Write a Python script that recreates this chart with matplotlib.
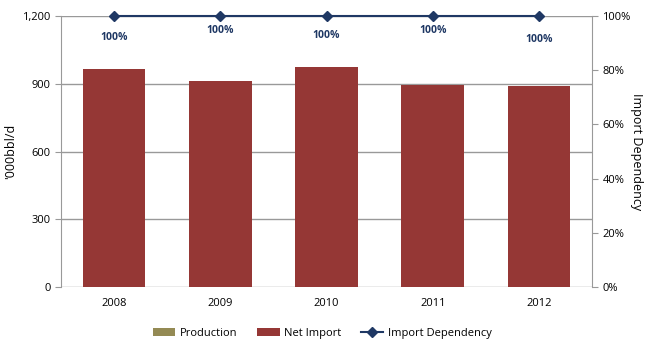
import matplotlib.pyplot as plt
import numpy as np

# datos
anios = ["2008", "2009", "2010", "2011", "2012"]
produccion = [0, 0, 0, 0, 0]
importacion = [965, 912, 974, 894, 890]
dependencia = [100, 100, 100, 100, 100]
etiquetas = ["100%", "100%", "100%", "100%", "100%"]
desplaz = [-21, -14, -19, -14, -23]   # posicion vertical de etiquetas (px)

plt.rcParams['font.family'] = ['Open Sans', 'DejaVu Sans']

fig = plt.figure(figsize=(6.45, 3.42), dpi=100)
ax = fig.add_axes([0.0946, 0.161, 0.8234, 0.792])
x = np.arange(len(anios))

ax.bar(x, produccion, width=0.59, color="#948A54", label="Production", zorder=3)
ax.bar(x, importacion, width=0.59, bottom=produccion, color="#953735", label="Net Import", zorder=3)
ax.set_xlim(-0.5, 4.5)
ax.set_ylim(0, 1200)
ax.set_yticks([0, 300, 600, 900, 1200])
ax.set_yticklabels(["0", "300", "600", "900", "1,200"])
ax.yaxis.grid(True, color="#999999", linewidth=1, zorder=0)
ax.set_xticks(x)
ax.set_xticklabels(anios)
ax.tick_params(axis="x", length=0, labelsize=8, pad=8)
ax.tick_params(axis="y", length=4, color="#999999", labelsize=8)
ax.set_ylabel("'000bbl/d", fontsize=9)
for s in ["top", "bottom"]:
    ax.spines[s].set_visible(False)
ax.spines["left"].set_color("#999999")
ax.spines["right"].set_visible(False)

ax2 = ax.twinx()
ax2.plot(x, dependencia, color="#1F3864", marker="D", markersize=5, linewidth=1.5,
         label="Import Dependency", zorder=5, clip_on=False)
ax2.set_ylim(0, 100)
ax2.set_yticks([0, 20, 40, 60, 80, 100])
ax2.set_yticklabels(["0%", "20%", "40%", "60%", "80%", "100%"])
ax2.tick_params(axis="y", length=4, color="#999999", labelsize=8)
for s in ["top", "bottom", "left"]:
    ax2.spines[s].set_visible(False)
ax2.spines["right"].set_color("#999999")
ax2.set_ylabel("Import Dependency", rotation=-90, fontsize=9)
ax2.yaxis.set_label_coords(1.095, 0.5)

for i in range(len(anios)):
    ax2.annotate(etiquetas[i], (x[i], dependencia[i]), xytext=(0, desplaz[i]),
                 textcoords="offset pixels", ha="center", va="center",
                 fontsize=7.5, fontweight="bold", color="#1F3864")

h1, l1 = ax.get_legend_handles_labels()
h2, l2 = ax2.get_legend_handles_labels()
fig.legend(h1 + h2, l1 + l2, loc="center", bbox_to_anchor=(0.5, 0.026), ncol=3,
           frameon=False, fontsize=8, handlelength=2, handletextpad=0.4,
           columnspacing=1.8)

fig.savefig("out.png", dpi=100)
